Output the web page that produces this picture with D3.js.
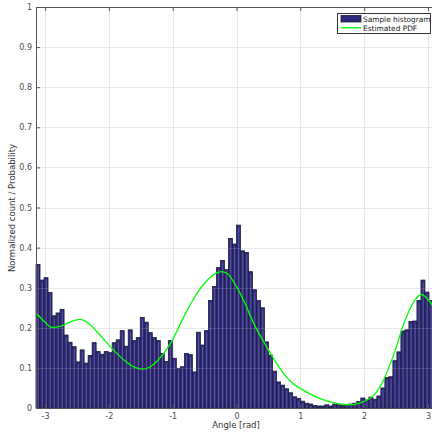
<!DOCTYPE html>
<html>
<head>
<meta charset="utf-8">
<script src="https://cdn.jsdelivr.net/npm/d3@7"></script>
<style>
  body { margin: 0; background: #fff; }
  text { font-family: "DejaVu Sans", sans-serif; }
</style>
</head>
<body>
<div id="chart"></div>
<script>
var svgWidth = 432;
var svgHeight = 432;

// histogram heights, 100 bins from -pi to pi
var histValues = [
  0.358, 0.319, 0.325, 0.288, 0.230, 0.237, 0.246, 0.182, 0.164, 0.153,
  0.115, 0.145, 0.112, 0.131, 0.163, 0.141, 0.134, 0.141, 0.138, 0.163,
  0.170, 0.193, 0.154, 0.195, 0.168, 0.176, 0.226, 0.214, 0.188, 0.176,
  0.168, 0.136, 0.116, 0.168, 0.124, 0.099, 0.103, 0.136, 0.133, 0.090,
  0.189, 0.157, 0.193, 0.268, 0.303, 0.350, 0.368, 0.345, 0.423, 0.409,
  0.456, 0.392, 0.388, 0.340, 0.295, 0.268, 0.250, 0.165, 0.132, 0.092,
  0.065, 0.057, 0.048, 0.038, 0.028, 0.024, 0.017, 0.012, 0.010, 0.006,
  0.005, 0.005, 0.008, 0.005, 0.010, 0.008, 0.006, 0.008, 0.010, 0.012,
  0.016, 0.025, 0.020, 0.027, 0.022, 0.030, 0.050, 0.076, 0.078, 0.118,
  0.140, 0.192, 0.195, 0.216, 0.217, 0.268, 0.319, 0.289, 0.268, 0.290
];

// estimated pdf
var pdfAngles = [-3.1416, -3.0, -2.9, -2.75, -2.6, -2.45, -2.3, -2.14, -1.93, -1.75,
  -1.6, -1.46, -1.35, -1.22, -1.02, -0.86, -0.70, -0.49, -0.33, -0.24,
  -0.15, -0.05, 0.11, 0.27, 0.47, 0.68, 0.85, 1.07, 1.33, 1.59,
  1.75, 1.9, 2.01, 2.165, 2.32, 2.48, 2.635, 2.79, 2.895, 3.0, 3.1416];
var pdfValues = [0.237, 0.214, 0.201, 0.204, 0.215, 0.221, 0.209, 0.182, 0.145, 0.118,
  0.102, 0.097, 0.103, 0.121, 0.165, 0.216, 0.265, 0.313, 0.335, 0.340,
  0.336, 0.316, 0.269, 0.211, 0.153, 0.099, 0.066, 0.042, 0.022, 0.011,
  0.008, 0.011, 0.017, 0.034, 0.075, 0.141, 0.216, 0.268, 0.283, 0.271, 0.237];

var xTicks = [-3, -2, -1, 0, 1, 2, 3];
var yTicks = [0, 0.1, 0.2, 0.3, 0.4, 0.5, 0.6, 0.7, 0.8, 0.9, 1];

var plotLeft = 36, plotRight = 437, plotTop = 7, plotBottom = 408;
var axisColor = "#555";

var svg = d3.select("#chart")
  .append("svg")
  .attr("width", svgWidth)
  .attr("height", svgHeight);

var xScale = d3.scaleLinear().domain([-Math.PI, Math.PI]).range([plotLeft, plotRight]);
var yScale = d3.scaleLinear().domain([0, 1]).range([plotBottom, plotTop]);

// grid
var grid = svg.append("g").attr("stroke", "#e6e6e6").attr("stroke-width", 1);
grid.selectAll(".gx").data(xTicks).enter().append("line")
  .attr("x1", d => Math.round(xScale(d)) + 0.5).attr("x2", d => Math.round(xScale(d)) + 0.5)
  .attr("y1", plotTop).attr("y2", plotBottom);
grid.selectAll(".gy").data(yTicks).enter().append("line")
  .attr("x1", plotLeft).attr("x2", plotRight)
  .attr("y1", d => Math.round(yScale(d)) + 0.5).attr("y2", d => Math.round(yScale(d)) + 0.5);

// bars
var binW = 2 * Math.PI / histValues.length;
var bars = svg.append("g");
bars.selectAll("rect").data(histValues).enter().append("rect")
  .attr("x", (d, i) => xScale(-Math.PI + i * binW))
  .attr("y", d => yScale(d))
  .attr("width", (d, i) => xScale(-Math.PI + (i + 1) * binW) - xScale(-Math.PI + i * binW))
  .attr("height", d => yScale(0) - yScale(d))
  .attr("fill", "#2e2a7a")
  .attr("stroke", "#1f1d3d")
  .attr("stroke-width", 0.8);

// lighter stripe inside each bar
bars.selectAll("line").data(histValues).enter().append("line")
  .attr("x1", (d, i) => xScale(-Math.PI + (i + 0.55) * binW))
  .attr("x2", (d, i) => xScale(-Math.PI + (i + 0.55) * binW))
  .attr("y1", d => yScale(d) + 2)
  .attr("y2", yScale(0))
  .attr("stroke", "#605cad")
  .attr("stroke-width", 0.9);

// grid drawn faintly again over the bars
var grid2 = svg.append("g").attr("stroke", "#ffffff").attr("stroke-opacity", 0.14);
grid2.selectAll("line").data(yTicks.slice(1)).enter().append("line")
  .attr("x1", plotLeft).attr("x2", plotRight)
  .attr("y1", d => Math.round(yScale(d)) + 0.5).attr("y2", d => Math.round(yScale(d)) + 0.5);

// pdf curve
var line = d3.line()
  .x(d => xScale(d[0]))
  .y(d => yScale(d[1]))
  .curve(d3.curveMonotoneX);
svg.append("path")
  .datum(pdfAngles.map((a, i) => [a, pdfValues[i]]))
  .attr("d", line)
  .attr("fill", "none")
  .attr("stroke", "#00ff00")
  .attr("stroke-width", 1.3);

// axes
var bottomAxis = d3.axisBottom(xScale).tickValues(xTicks).tickSizeInner(-4).tickSizeOuter(0).tickPadding(5)
  .tickFormat(d => String(d));
var topAxis = d3.axisTop(xScale).tickValues(xTicks).tickSizeInner(-4).tickSizeOuter(0).tickFormat("");
var leftAxis = d3.axisLeft(yScale).tickValues(yTicks).tickSizeInner(-4).tickSizeOuter(0).tickPadding(4)
  .tickFormat(d => String(+d.toFixed(1)));
var rightAxis = d3.axisRight(yScale).tickValues(yTicks).tickSizeInner(-4).tickSizeOuter(0).tickFormat("");

function styleAxis(g) {
  g.select(".domain").attr("stroke", axisColor);
  g.selectAll(".tick line").attr("stroke", axisColor);
  g.selectAll(".tick text").attr("fill", "#4d4d4d").style("font-size", "8px")
    .style("font-family", "DejaVu Sans, sans-serif");
}

svg.append("g").attr("transform", `translate(0, ${plotBottom})`).call(bottomAxis).call(styleAxis);
svg.append("g").attr("transform", `translate(0, ${plotTop})`).call(topAxis).call(styleAxis);
svg.append("g").attr("transform", `translate(${plotLeft}, 0)`).call(leftAxis).call(styleAxis);
svg.append("g").attr("transform", `translate(${plotRight}, 0)`).call(rightAxis).call(styleAxis);

// axis labels
svg.append("text")
  .attr("x", 236)
  .attr("y", 428)
  .attr("text-anchor", "middle")
  .attr("fill", "#333")
  .style("font-size", "8.5px")
  .text("Angle [rad]");

svg.append("text")
  .attr("transform", "rotate(-90)")
  .attr("x", -208)
  .attr("y", 15)
  .attr("text-anchor", "middle")
  .attr("fill", "#333")
  .style("font-size", "8.5px")
  .text("Normalized count / Probability");

// legend
var legend = svg.append("g");
legend.append("rect")
  .attr("x", 337.5).attr("y", 13.5).attr("width", 93).attr("height", 20)
  .attr("fill", "#fff").attr("stroke", "#333").attr("stroke-width", 1);
legend.append("rect")
  .attr("x", 341).attr("y", 15.5).attr("width", 20).attr("height", 6.5)
  .attr("fill", "#2e2a7a").attr("stroke", "#1f1d3d").attr("stroke-width", 0.8);
legend.append("line")
  .attr("x1", 341).attr("x2", 361).attr("y1", 27.7).attr("y2", 27.7)
  .attr("stroke", "#00ff00").attr("stroke-width", 1.3);
legend.append("text")
  .attr("x", 363).attr("y", 21.8).attr("fill", "#222").style("font-size", "7.4px")
  .text("Sample histogram");
legend.append("text")
  .attr("x", 363).attr("y", 30.5).attr("fill", "#222").style("font-size", "7.4px")
  .text("Estimated PDF");
</script>
</body>
</html>
